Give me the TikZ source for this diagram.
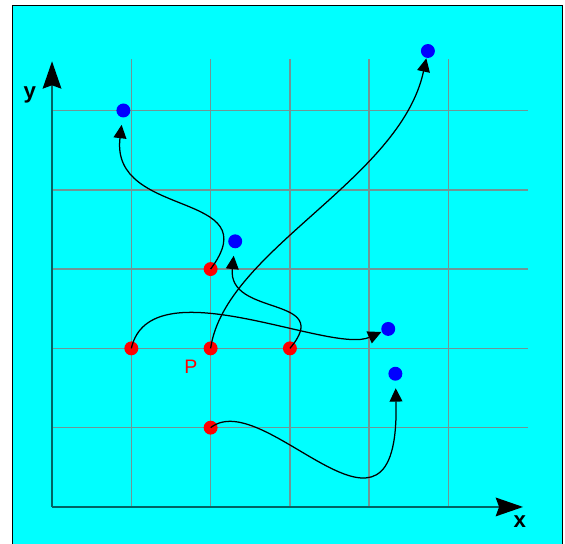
\documentclass[tikz,border=0pt]{standalone}
\usepackage{fontspec}
\setmainfont{Liberation Sans}
\usepackage{tikz}
\usetikzlibrary{arrows.meta,positioning}
\definecolor{PanelCyan}{RGB}{0, 255, 255}
\definecolor{GridGray}{RGB}{110, 150, 150}
\definecolor{AxisTeal}{RGB}{0, 100, 100}

\begin{document}
\begin{tikzpicture}[
    reddot/.style={circle, fill=red, inner sep=0pt, minimum size=5pt},
    bluedot/.style={circle, fill=blue, inner sep=0pt, minimum size=5pt},
    flow/.style={line width=0.45pt, -{Triangle[length=4.8pt,width=4.6pt]}},
    axislabel/.style={font=\bfseries\fontsize{8}{9}\selectfont}]
    \useasboundingbox (-0.656,-0.467) rectangle (6.469,6.393);
    \draw[fill=PanelCyan, line width=0.4pt] (-0.5,-0.7) rectangle (6.44,6.32);
    % grid
    \foreach \i in {1,...,5} {
      \draw[GridGray, line width=0.55pt] (\i, 0) -- (\i, 5.65);
      \draw[GridGray, line width=0.55pt] (0, \i) -- (6, \i);
    }
    % axes
    \draw[AxisTeal, line width=0.6pt, -{Stealth[length=9.8pt,width=6.7pt,inset=1.2pt,color=black]}] (0,0) -- (5.94,0);
    \draw[AxisTeal, line width=0.6pt, -{Stealth[length=9.8pt,width=6.7pt,inset=1.2pt,color=black]}] (0,0) -- (0,5.62);
    \node[axislabel] (xlab) at (5.9,-0.19) {x};
    \node[axislabel] (ylab) at (-0.28,5.2) {y};
    % start points
    \node[reddot] (r1) at (2,3) {};
    \node[reddot] (rP) at (2,2) {};
    \node[reddot] (rA) at (1,2) {};
    \node[reddot] (rB) at (3,2) {};
    \node[reddot] (rC) at (2,1) {};
    \node[text=red, font=\fontsize{7}{8}\selectfont] (plab) at (1.75,1.77) {P};
    % end points
    \node[bluedot] (b1) at (0.9,5) {};
    \node[bluedot] (b2) at (2.31,3.35) {};
    \node[bluedot] (b3) at (4.74,5.75) {};
    \node[bluedot] (b4) at (4.24,2.245) {};
    \node[bluedot] (b5) at (4.33,1.68) {};
    % moves
    \draw[flow, shorten >=2.5pt] (r1.center) .. controls (2.75,4.0) and (0.73,3.62) .. (b1);
    \draw[flow] (rP.center) .. controls (2.18,3.24) and (4.39,4.12) .. (b3);
    \draw[flow] (rA.center) .. controls (1.24,3.05) and (3.51,1.92) .. (b4);
    \draw[flow, shorten >=2.5pt] (rB.center) .. controls (3.57,2.67) and (2.21,2.39) .. (b2);
    \draw[flow, shorten >=2.5pt] (rC.center) .. controls (2.69,1.54) and (4.39,-0.92) .. (b5);
  \end{tikzpicture}
\end{document}
